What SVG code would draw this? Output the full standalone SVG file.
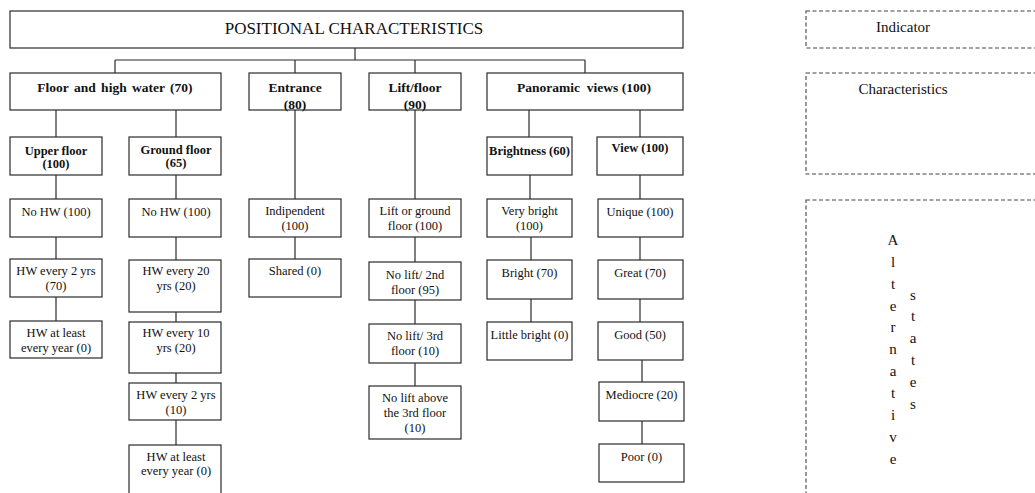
<svg xmlns="http://www.w3.org/2000/svg" width="1035" height="493" viewBox="0 0 1035 493">
<style>
.b{fill:#fff;stroke:#2b2b2b;stroke-width:1.2}
.d{fill:none;stroke:#444;stroke-width:1.1;stroke-dasharray:4 2.5}
.c{fill:none;stroke:#2b2b2b;stroke-width:1.2}
text{font-family:"Liberation Serif","Times New Roman",serif;fill:#111;text-anchor:middle}
.t{font-size:12.5px}
.h{font-size:13.5px;font-weight:bold}
.s{font-size:12.5px;font-weight:bold}
.r{font-size:15px}
.ti{font-size:17px}
</style>
<rect width="1035" height="493" fill="#fff"/>
<g id="connectors">
<path class="c" d="M355 48V60M115 60H585M115 60V73M295 60V73M415 60V73M585 60V73"/>
<path class="c" d="M56 110V137M176 110V137M529 110V137M640 110V137"/>
<path class="c" d="M56 175V199M176 175V199M295 110V199M415 110V199M530 175V199M640 175V199"/>
<path class="c" d="M56 237V259M176 237V260M295 237V259M415 237V262M531 237V260M640 237V260"/>
<path class="c" d="M56 297V321M176 312V322M415 300V324M531 299V322M640 299V322"/>
<path class="c" d="M176 373V383M415 363V386M642 360V382M176 420V445M642 421V444"/>
</g>
<g id="title"><rect class="b" x="10" y="11" width="673" height="37"/><text class="ti" x="354" y="34">POSITIONAL CHARACTERISTICS</text></g>
<g id="floor-hw"><rect class="b" x="10" y="73" width="211" height="37"/><text class="h" x="115" y="92" word-spacing="2">Floor and high water (70)</text></g>
<g id="entrance"><rect class="b" x="249" y="73" width="92" height="37"/><text class="h" x="295" y="92">Entrance</text><text class="h" x="295" y="108.5">(80)</text></g>
<g id="lift-floor"><rect class="b" x="369" y="73" width="92" height="37"/><text class="h" x="415" y="92">Lift/floor</text><text class="h" x="415" y="108.5">(90)</text></g>
<g id="panoramic"><rect class="b" x="487" y="73" width="196" height="37"/><text class="h" x="584" y="92" xml:space="preserve">Panoramic  views (100)</text></g>

<g id="upper-floor"><rect class="b" x="10" y="137" width="92" height="38"/><text class="s" x="56" y="155">Upper floor</text><text class="s" x="56" y="168">(100)</text></g>
<g id="ground-floor"><rect class="b" x="129" y="137" width="92" height="38"/><text class="s" x="176" y="153.5">Ground floor</text><text class="s" x="176" y="166.5">(65)</text></g>
<g id="brightness"><rect class="b" x="487" y="137" width="85" height="38"/><text class="s" x="529.5" y="155">Brightness (60)</text></g>
<g id="view"><rect class="b" x="597" y="137" width="86" height="38"/><text class="s" x="640" y="152">View (100)</text></g>

<g id="u-nohw"><rect class="b" x="10" y="199" width="92" height="38"/><text class="t" x="56" y="216">No HW (100)</text></g>
<g id="g-nohw"><rect class="b" x="129" y="199" width="92" height="38"/><text class="t" x="176" y="216">No HW (100)</text></g>
<g id="indipendent"><rect class="b" x="249" y="199" width="92" height="38"/><text class="t" x="295" y="215">Indipendent</text><text class="t" x="295" y="230">(100)</text></g>
<g id="lift-ground"><rect class="b" x="369" y="199" width="92" height="38"/><text class="t" x="415" y="215">Lift or ground</text><text class="t" x="415" y="230">floor (100)</text></g>
<g id="very-bright"><rect class="b" x="487" y="199" width="85" height="38"/><text class="t" x="529.5" y="215">Very bright</text><text class="t" x="529.5" y="230">(100)</text></g>
<g id="unique"><rect class="b" x="598" y="199" width="85" height="38"/><text class="t" x="640" y="216">Unique (100)</text></g>

<g id="u-hw2"><rect class="b" x="10" y="259" width="92" height="38"/><text class="t" x="56" y="275">HW every 2 yrs</text><text class="t" x="56" y="290">(70)</text></g>
<g id="g-hw20"><rect class="b" x="129" y="260" width="92" height="52"/><text class="t" x="176" y="275">HW every 20</text><text class="t" x="176" y="290">yrs (20)</text></g>
<g id="shared"><rect class="b" x="249" y="259" width="92" height="38"/><text class="t" x="295" y="275">Shared (0)</text></g>
<g id="nolift2"><rect class="b" x="369" y="262" width="92" height="38"/><text class="t" x="415" y="278.5">No lift/ 2nd</text><text class="t" x="415" y="293.5">floor (95)</text></g>
<g id="bright"><rect class="b" x="487" y="260" width="85" height="39"/><text class="t" x="529.5" y="276.5">Bright (70)</text></g>
<g id="great"><rect class="b" x="598" y="260" width="85" height="39"/><text class="t" x="640" y="276.5">Great (70)</text></g>

<g id="u-hwyear"><rect class="b" x="10" y="321" width="92" height="37"/><text class="t" x="56" y="336.5">HW at least</text><text class="t" x="56" y="351.5">every year (0)</text></g>
<g id="g-hw10"><rect class="b" x="129" y="322" width="92" height="51"/><text class="t" x="176" y="336.5">HW every 10</text><text class="t" x="176" y="351.5">yrs (20)</text></g>
<g id="nolift3"><rect class="b" x="369" y="324" width="92" height="39"/><text class="t" x="415" y="340">No lift/ 3rd</text><text class="t" x="415" y="355">floor (10)</text></g>
<g id="little-bright"><rect class="b" x="487" y="322" width="85" height="38"/><text class="t" x="529.5" y="339">Little bright (0)</text></g>
<g id="good"><rect class="b" x="598" y="322" width="85" height="38"/><text class="t" x="640" y="339">Good (50)</text></g>

<g id="g-hw2"><rect class="b" x="129" y="383" width="92" height="37"/><text class="t" x="176" y="398.5">HW every 2 yrs</text><text class="t" x="176" y="413.5">(10)</text></g>
<g id="nolift-above"><rect class="b" x="369" y="386" width="92" height="53"/><text class="t" x="415" y="401.5">No lift above</text><text class="t" x="415" y="416.5">the 3rd floor</text><text class="t" x="415" y="431.5">(10)</text></g>
<g id="mediocre"><rect class="b" x="599" y="382" width="85" height="39"/><text class="t" x="641.5" y="398.5">Mediocre (20)</text></g>

<g id="g-hwyear"><rect class="b" x="129" y="445" width="92" height="70"/><text class="t" x="176" y="460.5">HW at least</text><text class="t" x="176" y="475">every year (0)</text></g>
<g id="poor"><rect class="b" x="599" y="444" width="85" height="38"/><text class="t" x="641.5" y="460.5">Poor (0)</text></g>

<g id="legend-indicator"><rect class="d" x="806" y="11" width="260" height="37"/><text class="r" x="903" y="32">Indicator</text></g>
<g id="legend-characteristics"><rect class="d" x="806" y="73" width="260" height="101"/><text class="r" x="903" y="93.5">Characteristics</text></g>
<g id="legend-states"><rect class="d" x="806" y="200" width="260" height="320"/>
<text class="r" x="893"><tspan x="893" y="245">A</tspan><tspan x="893" y="267">l</tspan><tspan x="893" y="289">t</tspan><tspan x="893" y="310.5">e</tspan><tspan x="893" y="332">r</tspan><tspan x="893" y="354">n</tspan><tspan x="893" y="376">a</tspan><tspan x="893" y="398">t</tspan><tspan x="893" y="420">i</tspan><tspan x="893" y="442">v</tspan><tspan x="893" y="464">e</tspan></text>
<text class="r" x="913"><tspan x="913" y="299.5">s</tspan><tspan x="913" y="321">t</tspan><tspan x="913" y="343">a</tspan><tspan x="913" y="365">t</tspan><tspan x="913" y="386.5">e</tspan><tspan x="913" y="408.5">s</tspan></text>
</g>
</svg>
